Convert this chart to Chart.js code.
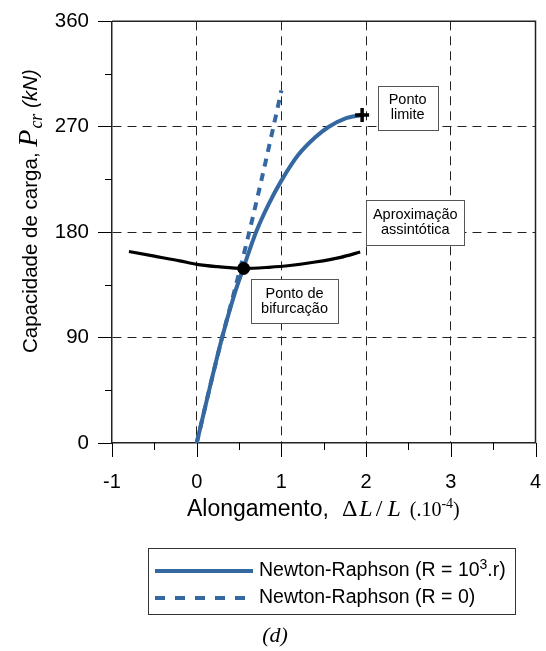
<!DOCTYPE html>
<html>
<head>
<meta charset="utf-8">
<script src="https://cdn.jsdelivr.net/npm/chart.js@4.4.0/dist/chart.umd.min.js"></script>
<style>
html, body { margin: 0; padding: 0; background: #fff; }
canvas { display: block; }
</style>
</head>
<body>
<canvas id="chart" width="546" height="651"></canvas>
<script>
// values
var xTicks = [-1, 0, 1, 2, 3, 4];
var yTicks = [0, 90, 180, 270, 360];

// Newton-Raphson (R = 10^3.r)
var solidX = [0, 0.15, 0.3, 0.45, 0.554, 0.7, 0.85, 1.0, 1.2, 1.4, 1.56, 1.75, 1.95];
var solidY = [0, 46, 90, 128, 150, 180, 204, 224, 246, 261, 270, 277, 280];

// Newton-Raphson (R = 0)
var dashX = [0, 0.15, 0.3, 0.45, 0.6, 0.75, 0.9, 1.0];
var dashY = [0, 46, 90, 131, 174, 220, 268, 301];

// asymptotic approximation curve
var asymX = [-0.8, -0.5, -0.2, 0, 0.25, 0.554, 0.85, 1.1, 1.4, 1.7, 1.93];
var asymY = [163.5, 159.5, 155.5, 152.5, 150.5, 149, 150, 151.5, 154.5, 158.5, 163];

var bifurcationPoint = [0.554, 149];
var limitPoint = [1.953, 280];

var noteTexts = [['Ponto', 'limite'], ['Aproximação', 'assintótica'], ['Ponto de', 'bifurcação']];

var blue = '#3568a1';
var sans = '"Liberation Sans", Arial, sans-serif';
var serif = '"Liberation Serif", "Times New Roman", serif';

function toXY(xs, ys) {
    return xs.map(function (x, i) { return { x: x, y: ys[i] }; });
}

var notes = [
    { lines: noteTexts[0], x: 2.49, y: 286, w: 60, h: 44 },
    { lines: noteTexts[1], x: 2.58, y: 188.3, w: 98, h: 45 },
    { lines: noteTexts[2], x: 1.155, y: 121, w: 87, h: 44 }
];

function drawRuns(ctx, runs, x, y) {
    runs.forEach(function (r) {
        ctx.font = r.font;
        ctx.fillText(r.text, x, y + (r.dy || 0));
        x += ctx.measureText(r.text).width + (r.gap || 0);
    });
}

var extras = {
    id: 'extras',
    afterDatasetsDraw: function (chart) {
        var ctx = chart.ctx, xs = chart.scales.x, ys = chart.scales.y;
        ctx.save();
        notes.forEach(function (n) {
            var cx = xs.getPixelForValue(n.x), cy = ys.getPixelForValue(n.y);
            ctx.fillStyle = '#fff';
            ctx.fillRect(cx - n.w / 2, cy - n.h / 2, n.w, n.h);
            ctx.strokeStyle = '#555';
            ctx.lineWidth = 1;
            ctx.strokeRect(Math.round(cx - n.w / 2) + 0.5, Math.round(cy - n.h / 2) + 0.5, n.w, n.h);
            ctx.fillStyle = '#000';
            ctx.font = '14.5px ' + sans;
            ctx.textAlign = 'center';
            ctx.textBaseline = 'middle';
            ctx.fillText(n.lines[0], cx, cy - 7.5);
            ctx.fillText(n.lines[1], cx, cy + 7.5);
        });
        ctx.restore();
    },
    afterDraw: function (chart) {
        var ctx = chart.ctx, a = chart.chartArea;
        var xs = chart.scales.x, ys = chart.scales.y;
        ctx.save();
        // top and right frame
        ctx.strokeStyle = '#222';
        ctx.lineWidth = 1.5;
        ctx.beginPath();
        ctx.moveTo(a.left, a.top);
        ctx.lineTo(a.right, a.top);
        ctx.lineTo(a.right, a.bottom);
        ctx.stroke();

        // x ticks (major and minor) and y minor ticks
        ctx.lineWidth = 1;
        ctx.strokeStyle = '#000';
        ctx.beginPath();
        xTicks.forEach(function (v) {
            var px = Math.round(xs.getPixelForValue(v)) + 0.5;
            ctx.moveTo(px, a.bottom);
            ctx.lineTo(px, a.bottom + 14);
        });
        for (var v = -0.5; v < 4; v += 1) {
            var px = Math.round(xs.getPixelForValue(v)) + 0.5;
            ctx.moveTo(px, a.bottom);
            ctx.lineTo(px, a.bottom + 7);
        }
        for (var w = 45; w < 360; w += 90) {
            var py = Math.round(ys.getPixelForValue(w)) + 0.5;
            ctx.moveTo(a.left - 7, py);
            ctx.lineTo(a.left, py);
        }
        ctx.stroke();

        ctx.fillStyle = '#000';
        ctx.textAlign = 'left';
        ctx.textBaseline = 'alphabetic';

        // y axis title
        ctx.save();
        ctx.translate(37, 353);
        ctx.rotate(-Math.PI / 2);
        drawRuns(ctx, [
            { text: 'Capacidade de carga, ', font: '20.5px ' + sans },
            { text: 'P', font: 'italic 28px ' + serif, gap: 1 },
            { text: 'cr', font: 'italic 18px ' + serif, dy: 5 },
            { text: ' (kN)', font: 'italic 20.5px ' + sans }
        ], 0, 0);
        ctx.restore();

        // x axis title
        drawRuns(ctx, [
            { text: 'Alongamento,', font: '23px ' + sans, gap: 13 },
            { text: '\u0394', font: '24px ' + serif, gap: 2 },
            { text: 'L', font: 'italic 24px ' + serif, gap: 3 },
            { text: '/', font: '24px ' + serif, gap: 5 },
            { text: 'L', font: 'italic 24px ' + serif, gap: 9 },
            { text: '(.10', font: '20px ' + serif },
            { text: '-4', font: '14px ' + serif, dy: -8 },
            { text: ')', font: '20px ' + serif }
        ], 187, 516);

        // legend
        var items = chart.data.datasets.filter(function (d) { return d.inLegend; });
        ctx.strokeStyle = '#333';
        ctx.lineWidth = 1;
        ctx.strokeRect(148.5, 548.5, 367, 66);
        items.forEach(function (d, i) {
            var ly = 571 + i * 27;
            ctx.save();
            ctx.strokeStyle = d.borderColor;
            ctx.lineWidth = d.borderWidth;
            ctx.setLineDash(d.borderDash ? [10, 10] : []);
            ctx.beginPath();
            ctx.moveTo(155, ly);
            ctx.lineTo(253, ly);
            ctx.stroke();
            ctx.restore();
            ctx.textBaseline = 'middle';
            // superscript in the label
            var parts = d.label.split('³');
            var runs = [{ text: parts[0], font: '19.5px ' + sans }];
            if (parts.length > 1) {
                runs.push({ text: '3', font: '14px ' + sans, dy: -6 });
                runs.push({ text: parts[1], font: '19.5px ' + sans });
            }
            drawRuns(ctx, runs, 259, ly);
        });

        // panel label
        ctx.textAlign = 'center';
        ctx.textBaseline = 'alphabetic';
        ctx.font = 'italic 22px ' + serif;
        ctx.fillText('(d)', 275, 642);
        ctx.restore();
    }
};

var ctx = document.getElementById('chart').getContext('2d');
var myChart = new Chart(ctx, {
    type: 'scatter',
    data: {
        datasets: [
            {
                label: 'bifurcation',
                data: [{ x: bifurcationPoint[0], y: bifurcationPoint[1] }],
                pointRadius: 6,
                pointBackgroundColor: '#000',
                pointBorderColor: '#000',
                showLine: false
            },
            {
                label: 'limit',
                data: [{ x: limitPoint[0], y: limitPoint[1] }],
                pointStyle: 'cross',
                pointRadius: 7,
                pointBorderWidth: 3.5,
                pointBorderColor: '#000',
                showLine: false
            },
            {
                label: 'Newton-Raphson (R = 10³.r)',
                inLegend: true,
                data: toXY(solidX, solidY),
                showLine: true,
                borderColor: blue,
                borderWidth: 4,
                pointRadius: 0,
                cubicInterpolationMode: 'monotone'
            },
            {
                label: 'asymptotic',
                data: toXY(asymX, asymY),
                showLine: true,
                borderColor: '#000',
                borderWidth: 3.2,
                pointRadius: 0,
                cubicInterpolationMode: 'monotone'
            },
            {
                label: 'Newton-Raphson (R = 0)',
                inLegend: true,
                data: toXY(dashX, dashY),
                showLine: true,
                borderColor: blue,
                borderWidth: 4,
                borderDash: [8, 7],
                pointRadius: 0,
                cubicInterpolationMode: 'monotone'
            }
        ]
    },
    options: {
        responsive: false,
        animation: false,
        events: [],
        layout: {
            padding: { left: 0, right: 8, top: 19, bottom: 0 }
        },
        plugins: {
            legend: { display: false },
            tooltip: { enabled: false }
        },
        scales: {
            x: {
                type: 'linear',
                min: xTicks[0],
                max: xTicks[xTicks.length - 1],
                afterFit: function (s) { s.height = 208; },
                afterBuildTicks: function (s) { s.ticks = xTicks.map(function (v) { return { value: v }; }); },
                ticks: {
                    color: '#000',
                    padding: 3,
                    maxRotation: 0,
                    font: { family: sans, size: 20 },
                    callback: function (v) { return String(v); }
                },
                grid: {
                    color: function (c) { return (c.tick && (c.tick.value === -1 || c.tick.value === 4)) ? 'rgba(0,0,0,0)' : '#222'; },
                    lineWidth: 1,
                    tickColor: 'rgba(0,0,0,0)',
                    tickLength: 24,
                    tickBorderDash: []
                },
                border: { display: true, color: '#222', width: 1.5, dash: [9, 6] }
            },
            y: {
                type: 'linear',
                min: yTicks[0],
                max: yTicks[yTicks.length - 1],
                afterFit: function (s) { s.width = 112; },
                afterBuildTicks: function (s) { s.ticks = yTicks.map(function (v) { return { value: v }; }); },
                ticks: {
                    color: '#000',
                    padding: 9,
                    font: { family: sans, size: 20.5 },
                    callback: function (v) { return String(v); }
                },
                grid: {
                    color: function (c) { return (c.tick && (c.tick.value === 0 || c.tick.value === 360)) ? 'rgba(0,0,0,0)' : '#222'; },
                    lineWidth: 1,
                    tickColor: '#000',
                    tickLength: 14,
                    tickBorderDash: []
                },
                border: { display: true, color: '#222', width: 1.5, dash: [9, 6] }
            }
        }
    },
    plugins: [extras]
});
</script>
</body>
</html>
